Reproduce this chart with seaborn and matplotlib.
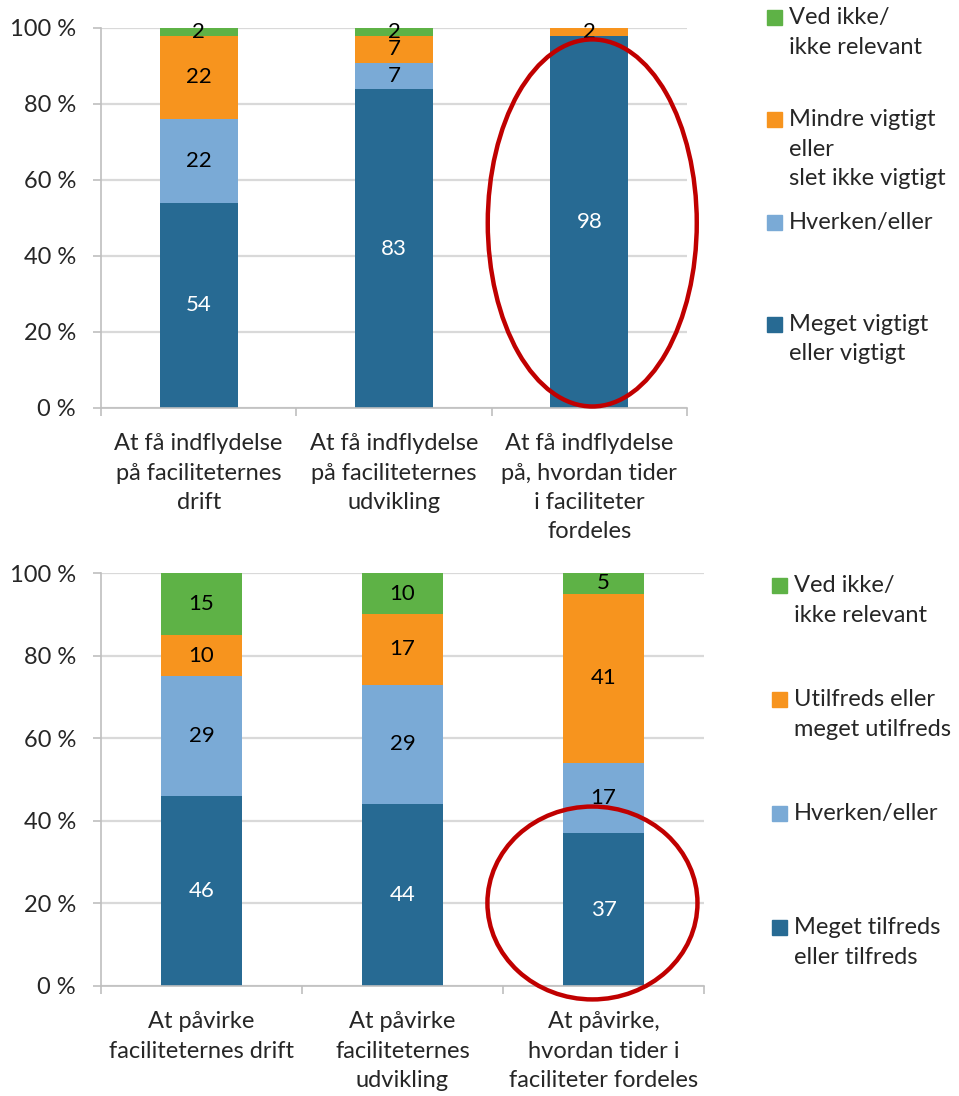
import pandas as pd
import seaborn as sns
import matplotlib.pyplot as plt
from matplotlib.patches import Ellipse, Rectangle


# top chart - how important
top_categories = ["At få indflydelse\npå faciliteternes\ndrift",
                  "At få indflydelse\npå faciliteternes\nudvikling",
                  "At få indflydelse\npå, hvordan tider\ni faciliteter\nfordeles"]
top_series = ["Meget vigtigt\neller vigtigt", "Hverken/eller",
              "Mindre vigtigt\neller\nslet ikke vigtigt", "Ved ikke/\nikke relevant"]
top_meget = [54, 83, 98]
top_hverken = [22, 7, 0]
top_mindre = [22, 7, 2]
top_vedikke = [2, 2, 0]

# bottom chart - how satisfied
bottom_categories = ["At påvirke\nfaciliteternes drift",
                     "At påvirke\nfaciliteternes\nudvikling",
                     "At påvirke,\nhvordan tider i\nfaciliteter fordeles"]
bottom_series = ["Meget tilfreds\neller tilfreds", "Hverken/eller",
                 "Utilfreds eller\nmeget utilfreds", "Ved ikke/\nikke relevant"]
bottom_meget = [46, 44, 37]
bottom_hverken = [29, 29, 17]
bottom_utilfreds = [10, 17, 41]
bottom_vedikke = [15, 10, 5]

colors = ["#276A93", "#7AAAD6", "#F7941E", "#5EB246"]
text_colors = ["white", "black", "black", "black"]
grid_color = "#D9D9D9"
axis_color = "#BFBFBF"
ring_color = "#C00000"

sns.set_theme(style="white")
plt.rcParams['font.family'] = ['Lato', 'DejaVu Sans']
FS = 17

W, H = 959, 1096
fig = plt.figure(figsize=(W / 100, H / 100), dpi=100)


def fx(px):
    return px / W


def fy(px):
    return 1 - px / H


def stacked_chart(ax, categories, series, layers):
    df = pd.DataFrame(dict(zip(series, layers)), index=categories)
    pct = df.div(df.sum(axis=1), axis=0) * 100
    cum = pct.cumsum(axis=1)
    # tallest layer first, the lower ones are drawn on top of it
    for i in reversed(range(len(series))):
        sns.barplot(x=categories, y=cum[series[i]].values, color=colors[i],
                    width=0.4, saturation=1, linewidth=0, errorbar=None, ax=ax)
    for j, cat in enumerate(categories):
        for i, s in enumerate(series):
            v = df.loc[cat, s]
            if v > 0:
                ax.text(j, cum.loc[cat, s] - pct.loc[cat, s] / 2, str(v),
                        ha="center", va="center", fontsize=FS - 1,
                        color=text_colors[i], zorder=4)

    ax.set_axisbelow(True)
    ax.set_xlim(-0.5, 2.5)
    ax.set_ylim(0, 100)
    ax.set_yticks(range(0, 101, 20))
    ax.set_yticklabels([f"{v} %" for v in range(0, 101, 20)], fontsize=FS)
    ax.yaxis.grid(True, color=grid_color, lw=1.6)
    ax.set_xticks(range(len(categories)))
    ax.set_xticklabels(categories, fontsize=FS, linespacing=1.5)
    ax.set_xticks([-0.5, 0.5, 1.5, 2.5], minor=True)
    ax.tick_params(axis="x", which="major", length=0, pad=18)
    ax.tick_params(axis="x", which="minor", length=6, width=1.2,
                   color=axis_color, direction="out", bottom=True)
    ax.tick_params(axis="y", length=6, width=1.2, color=axis_color,
                   direction="out", left=True, pad=12)
    for side in ["top", "right"]:
        ax.spines[side].set_visible(False)
    for side in ["left", "bottom"]:
        ax.spines[side].set_color(axis_color)
        ax.spines[side].set_linewidth(1.2)
    ax.set_xlabel("")
    ax.set_ylabel("")


def legend_block(series, x_box, x_text, y_first, step):
    # Excel style legend: entries evenly spaced, box at first line
    order = list(range(len(series)))[::-1]
    for k, i in enumerate(order):
        yc = y_first + k * step
        fig.patches.append(Rectangle((fx(x_box), fy(yc + 7)), 15 / W, 15 / H,
                                     transform=fig.transFigure,
                                     color=colors[i], figure=fig))
        fig.text(fx(x_text), fy(yc - 11), series[i], ha="left", va="top",
                 fontsize=FS, linespacing=1.5,
                 transform=fig.transFigure)


ax1 = fig.add_axes([fx(101), fy(408), fx(687) - fx(101), fy(28) - fy(408)])
stacked_chart(ax1, top_categories, top_series,
              [top_meget, top_hverken, top_mindre, top_vedikke])
ax1.add_patch(Ellipse((2.015, 48.7), 1.07, 96.6, fill=False, ec=ring_color,
                      lw=3.2, clip_on=False, zorder=6))

ax2 = fig.add_axes([fx(101), fy(986), fx(704) - fx(101), fy(573) - fy(986)])
stacked_chart(ax2, bottom_categories, bottom_series,
              [bottom_meget, bottom_hverken, bottom_utilfreds, bottom_vedikke])
ax2.add_patch(Ellipse((1.945, 20.1), 1.045, 46.7, fill=False, ec=ring_color,
                      lw=3.2, clip_on=False, zorder=6))

legend_block(top_series, 767, 789, 18, 102.3)
legend_block(bottom_series, 772, 794, 586, 114)

fig.savefig("out.png", dpi=100)
